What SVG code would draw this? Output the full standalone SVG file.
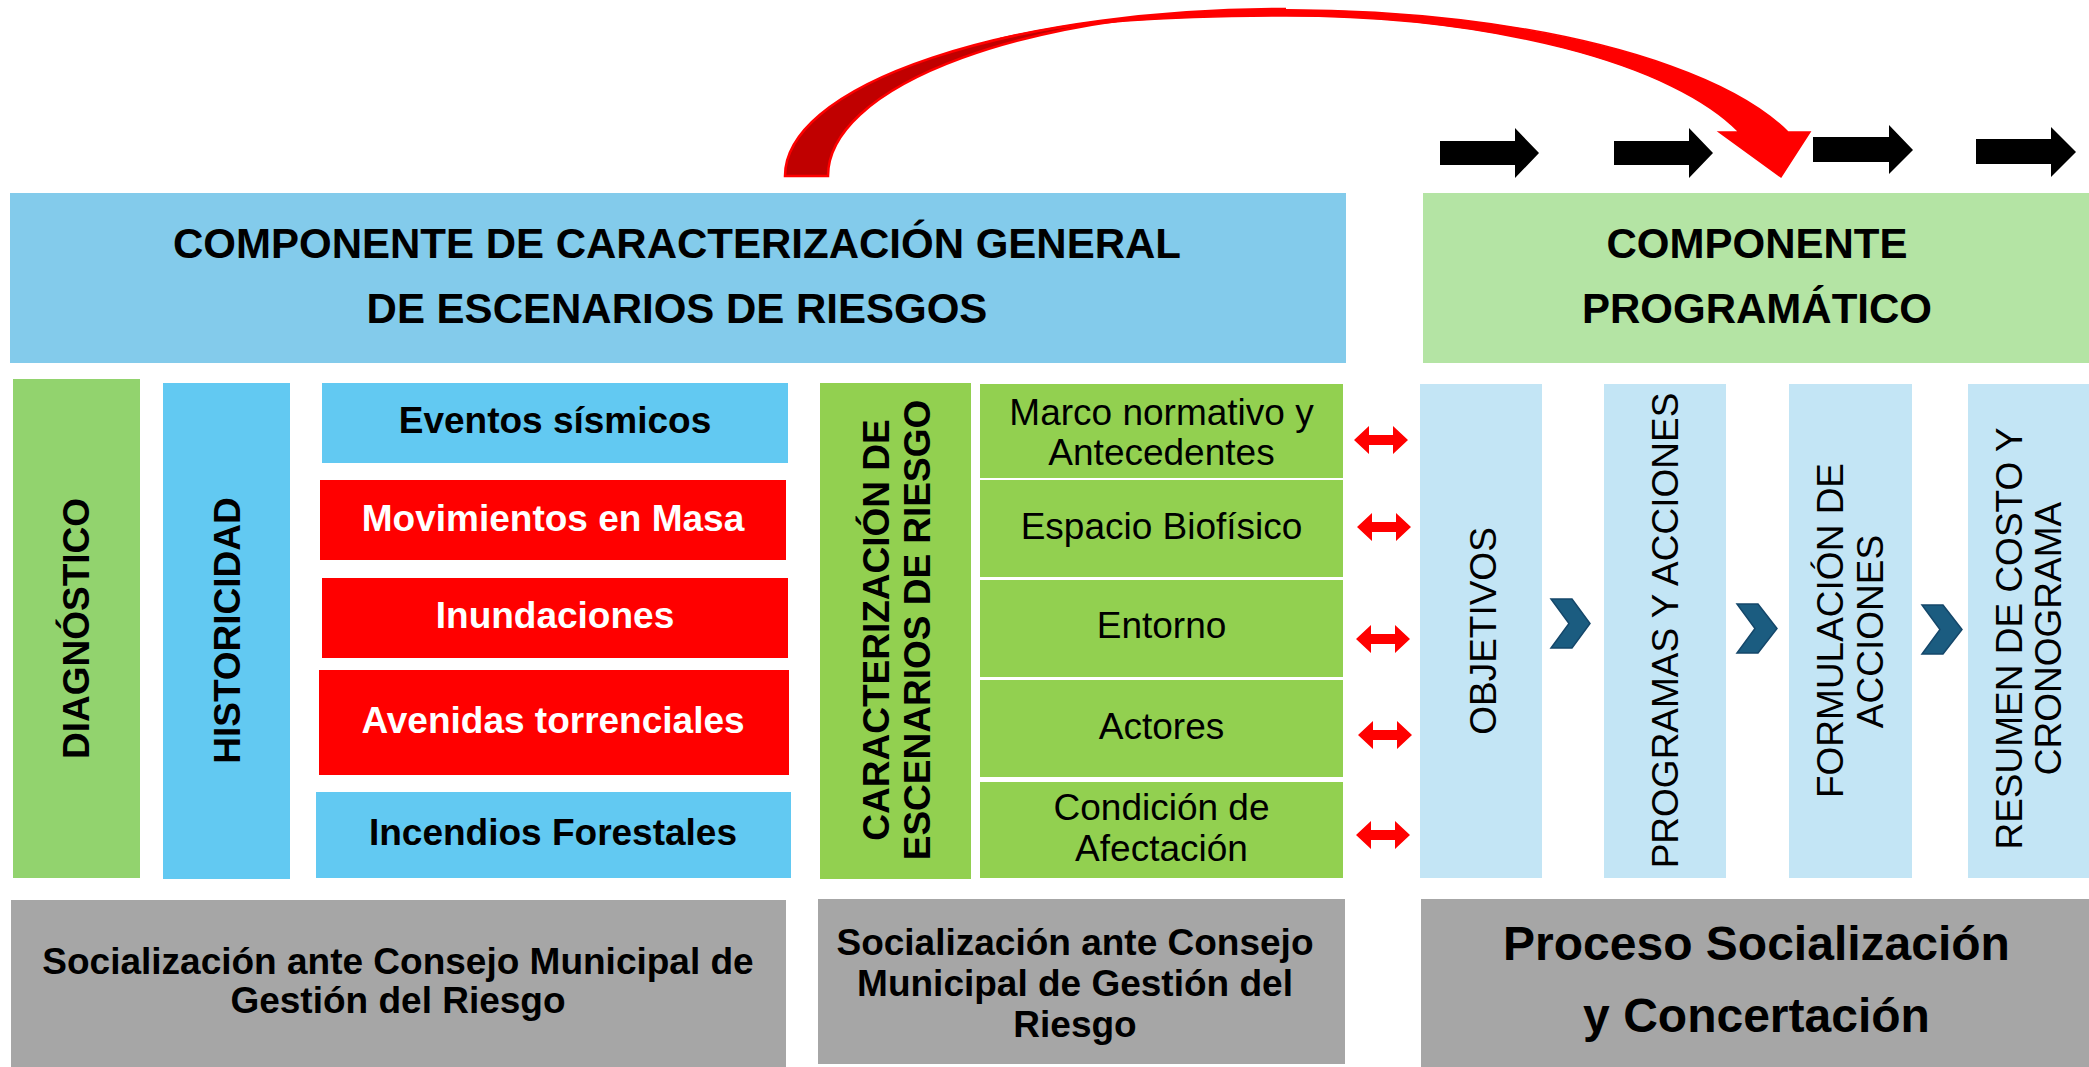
<svg xmlns="http://www.w3.org/2000/svg" width="2089" height="1067" viewBox="0 0 2089 1067">
<style>
text{font-family:"Liberation Sans",Arial,sans-serif;fill:#000;text-anchor:middle}
.b{font-weight:bold}
.w{fill:#fff}
.hdr{font-size:42px;font-weight:bold}
.f37{font-size:37px}
.f48{font-size:48px;font-weight:bold}
.blueH{fill:#83CBEB}
.greenH{fill:#B4E4A4}
.greenL{fill:#92D36E}
.blue{fill:#62C9F2}
.red{fill:#FF0000}
.green{fill:#92D050}
.lblue{fill:#C3E5F5}
.gray{fill:#A6A6A6}
.blk{fill:#000}
.chev{fill:#1B5C80;stroke:#14476A;stroke-width:1.5}
.dbl{fill:#FF0000}
</style>
<defs>
<path id="dblarrow" d="M0,0 L15,-14 L15,-5 L39,-5 L39,-14 L54,0 L39,14 L39,5 L15,5 L15,14 Z"/>
</defs>
<rect width="2089" height="1067" fill="#fff"/>

<g id="header-caracterizacion">
<rect class="blueH" x="10" y="193" width="1336" height="170"/>
<text class="hdr" x="677" y="258">COMPONENTE DE CARACTERIZACIÓN GENERAL</text>
<text class="hdr" x="677" y="323">DE ESCENARIOS DE RIESGOS</text>
</g>
<g id="header-programatico">
<rect class="greenH" x="1423" y="193" width="666" height="170"/>
<text class="hdr" x="1757" y="258">COMPONENTE</text>
<text class="hdr" x="1757" y="323">PROGRAMÁTICO</text>
</g>

<g id="diagnostico">
<rect class="greenL" x="13" y="379" width="127" height="499"/>
<text class="b f37" transform="translate(89,628.5) rotate(-90)">DIAGNÓSTICO</text>
</g>
<g id="historicidad">
<rect class="blue" x="163" y="383" width="127" height="496"/>
<text class="b f37" transform="translate(240,630.5) rotate(-90)">HISTORICIDAD</text>
</g>

<g id="eventos-sismicos">
<rect class="blue" x="322" y="383" width="466" height="80"/>
<text class="b f37" x="555" y="433">Eventos sísmicos</text>
</g>
<g id="movimientos-masa">
<rect class="red" x="320" y="480" width="466" height="80"/>
<text class="b f37 w" x="553" y="531">Movimientos en Masa</text>
</g>
<g id="inundaciones">
<rect class="red" x="322" y="578" width="466" height="80"/>
<text class="b f37 w" x="555" y="628">Inundaciones</text>
</g>
<g id="avenidas">
<rect class="red" x="319" y="670" width="470" height="105"/>
<text class="b f37 w" x="553" y="733">Avenidas torrenciales</text>
</g>
<g id="incendios">
<rect class="blue" x="316" y="792" width="475" height="86"/>
<text class="b f37" x="553" y="845">Incendios Forestales</text>
</g>

<g id="caracterizacion-escenarios">
<rect class="green" x="820" y="383" width="151" height="496"/>
<text class="b f37" transform="translate(889,630) rotate(-90)">CARACTERIZACIÓN DE</text>
<text class="b f37" transform="translate(930,630) rotate(-90)">ESCENARIOS DE RIESGO</text>
</g>

<g id="marco-normativo">
<rect class="green" x="980" y="384" width="363" height="94"/>
<text class="f37" x="1161.5" y="425">Marco normativo y</text>
<text class="f37" x="1161.5" y="465">Antecedentes</text>
</g>
<g id="espacio-biofisico">
<rect class="green" x="980" y="480" width="363" height="97"/>
<text class="f37" x="1161.5" y="539">Espacio Biofísico</text>
</g>
<g id="entorno">
<rect class="green" x="980" y="580" width="363" height="97"/>
<text class="f37" x="1161.5" y="638">Entorno</text>
</g>
<g id="actores">
<rect class="green" x="980" y="680" width="363" height="97"/>
<text class="f37" x="1161.5" y="739">Actores</text>
</g>
<g id="condicion-afectacion">
<rect class="green" x="980" y="782" width="363" height="96"/>
<text class="f37" x="1161.5" y="820">Condición de</text>
<text class="f37" x="1161.5" y="861">Afectación</text>
</g>

<g id="objetivos">
<rect class="lblue" x="1420" y="384" width="122" height="494"/>
<text class="f37" transform="translate(1496,631) rotate(-90)">OBJETIVOS</text>
</g>
<g id="programas-acciones">
<rect class="lblue" x="1604" y="384" width="122" height="494"/>
<text class="f37" transform="translate(1678,630.5) rotate(-90)">PROGRAMAS Y ACCIONES</text>
</g>
<g id="formulacion-acciones">
<rect class="lblue" x="1789" y="384" width="123" height="494"/>
<text class="f37" transform="translate(1843,630.5) rotate(-90)">FORMULACIÓN DE</text>
<text class="f37" transform="translate(1883,631.5) rotate(-90)">ACCIONES</text>
</g>
<g id="resumen-costo">
<rect class="lblue" x="1968" y="384" width="121" height="494"/>
<text class="f37" transform="translate(2022,638.5) rotate(-90)">RESUMEN DE COSTO Y</text>
<text class="f37" transform="translate(2061,638.5) rotate(-90)">CRONOGRAMA</text>
</g>

<g id="socializacion-1">
<rect class="gray" x="11" y="900" width="775" height="167"/>
<text class="b f37" x="398" y="974">Socialización ante Consejo Municipal de</text>
<text class="b f37" x="398" y="1013">Gestión del Riesgo</text>
</g>
<g id="socializacion-2">
<rect class="gray" x="818" y="899" width="527" height="165"/>
<text class="b f37" x="1075" y="955">Socialización ante Consejo</text>
<text class="b f37" x="1075" y="996">Municipal de Gestión del</text>
<text class="b f37" x="1075" y="1037">Riesgo</text>
</g>
<g id="proceso-socializacion">
<rect class="gray" x="1421" y="899" width="668" height="168"/>
<text class="f48" x="1756.5" y="960">Proceso Socialización</text>
<text class="f48" x="1756.5" y="1032">y Concertación</text>
</g>

<g id="connectors">
<polygon class="blk" points="1440,141 1515,141 1515,128 1539,153 1515,178 1515,165 1440,165"/>
<polygon class="blk" points="1614,141 1689,141 1689,128 1713,153 1689,178 1689,165 1614,165"/>
<polygon class="blk" points="1813,137 1889,137 1889,125 1913,150 1889,174 1889,162 1813,162"/>
<polygon class="blk" points="1976,139 2051,139 2051,127 2076,152 2051,177 2051,164 1976,164"/>
<path d="M785,176 A501,167 0 0,1 1286,9 A458,167 0 0,0 828,176 Z" fill="#C00000" stroke="#FF0000" stroke-width="2.5"/>
<path d="M1000,38.5 A530,181 0 0,1 1788,132 L1810,132 L1781,177 L1719,132 L1739,132 A480,174 0 0,0 1286,16 C1180,16 1070,22 1000,38.5 Z" fill="#FF0000" stroke="#FF0000" stroke-width="1.5"/>
<use href="#dblarrow" class="dbl" x="1354" y="440"/>
<use href="#dblarrow" class="dbl" x="1357" y="527"/>
<use href="#dblarrow" class="dbl" x="1356" y="639"/>
<use href="#dblarrow" class="dbl" x="1358" y="735"/>
<use href="#dblarrow" class="dbl" x="1356" y="835"/>
<polygon class="chev" points="1551,599 1572,599 1590,623.5 1572,648 1551,648 1569,623.5"/>
<polygon class="chev" points="1737,604 1758,604 1777,628.5 1758,653 1737,653 1755,628.5"/>
<polygon class="chev" points="1922,605 1943,605 1962,629.5 1943,654 1922,654 1940,629.5"/>
</g>
</svg>
